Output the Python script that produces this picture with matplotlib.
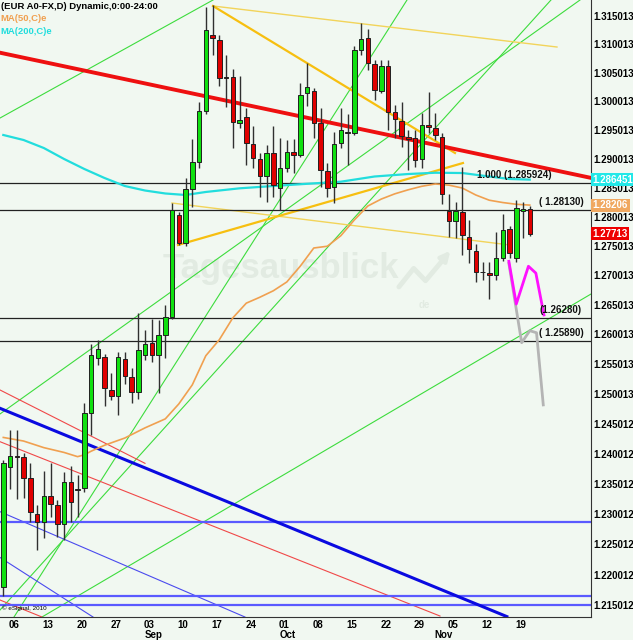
import numpy as np
import pandas as pd
import matplotlib
matplotlib.use("Agg")
import matplotlib.pyplot as plt
from matplotlib.ticker import FixedLocator, NullLocator

plt.rcParams['font.family'] = ['Liberation Sans', 'DejaVu Sans']

# -----------------------------
# Daily candles EUR/USD
# -----------------------------
opens = [1.21797, 1.23779, 1.23959, 1.23947, 1.23597, 1.22996, 1.22869, 1.23294, 1.23144, 1.22832,
         1.23531, 1.23419, 1.23431, 1.24681, 1.25600, 1.25612, 1.25061, 1.24960, 1.25583, 1.25274,
         1.25032, 1.25651, 1.25849, 1.25651, 1.25989, 1.26299, 1.28036, 1.27560, 1.28479, 1.28956,
         1.29833, 1.31158, 1.31082, 1.30429, 1.30424, 1.29633, 1.29727, 1.29262, 1.29003, 1.28714,
         1.29111, 1.28496, 1.28842, 1.29128, 1.29071, 1.30145, 1.30185, 1.29622, 1.28800, 1.28513,
         1.29274, 1.29470, 1.29458, 1.30909, 1.31117, 1.30651, 1.30190, 1.30622, 1.29822, 1.29663,
         1.29389, 1.29361, 1.28996, 1.29591, 1.29545, 1.29376, 1.28110, 1.27936, 1.28093, 1.27663,
         1.27427, 1.27064, 1.27047, 1.27008, 1.27294, 1.27787, 1.27302, 1.28110, 1.28134]
highs = [1.23891, 1.24399, 1.24389, 1.24009, 1.23847, 1.23144, 1.23708, 1.23837, 1.23227, 1.23697,
         1.23796, 1.23653, 1.24839, 1.25834, 1.25900, 1.25668, 1.25342, 1.25707, 1.25707, 1.25426,
         1.26357, 1.26073, 1.26255, 1.26243, 1.26498, 1.28248, 1.28093, 1.28668, 1.29343, 1.29997,
         1.31663, 1.31693, 1.31158, 1.30810, 1.30564, 1.30447, 1.29882, 1.29574, 1.29100, 1.29244,
         1.29574, 1.29361, 1.29331, 1.29343, 1.30319, 1.30681, 1.30232, 1.29882, 1.28928, 1.29475,
         1.29893, 1.29777, 1.30967, 1.31383, 1.31279, 1.30727, 1.30727, 1.30727, 1.29940, 1.29997,
         1.29505, 1.29505, 1.29805, 1.30167, 1.29794, 1.29453, 1.28399, 1.28265, 1.28864, 1.27950,
         1.27538, 1.27231, 1.27231, 1.27744, 1.28053, 1.27847, 1.28294, 1.28260, 1.28191]
lows = [1.21649, 1.23418, 1.23244, 1.23261, 1.22869, 1.22402, 1.22596, 1.22952, 1.22622, 1.22567,
        1.22869, 1.22942, 1.23360, 1.24308, 1.25480, 1.24792, 1.24894, 1.24642, 1.25162, 1.24848,
        1.24906, 1.25566, 1.25538, 1.25006, 1.25595, 1.26255, 1.27521, 1.27504, 1.28165, 1.28842,
        1.29777, 1.30810, 1.30273, 1.29912, 1.29187, 1.29535, 1.28898, 1.28842, 1.28351, 1.28265,
        1.28351, 1.28122, 1.28783, 1.28755, 1.29038, 1.29923, 1.29361, 1.28524, 1.28341, 1.28248,
        1.29187, 1.28898, 1.29419, 1.30810, 1.30552, 1.30028, 1.30145, 1.29505, 1.29361, 1.29215,
        1.28812, 1.28869, 1.28842, 1.29448, 1.29331, 1.28231, 1.27663, 1.27636, 1.27350, 1.27209,
        1.26894, 1.26923, 1.26600, 1.26923, 1.27248, 1.27299, 1.27236, 1.27641, 1.27670]
closes = [1.23837, 1.23959, 1.23951, 1.23603, 1.23025, 1.22869, 1.23294, 1.23161, 1.22842, 1.23521,
          1.23199, 1.23399, 1.24671, 1.25651, 1.25750, 1.25099, 1.24960, 1.25612, 1.25296, 1.25032,
          1.25735, 1.25837, 1.25651, 1.25989, 1.26299, 1.28122, 1.27560, 1.28479, 1.28951, 1.29833,
          1.31262, 1.31117, 1.30407, 1.30419, 1.29640, 1.29680, 1.29284, 1.29014, 1.28709, 1.29100,
          1.28553, 1.28842, 1.29128, 1.29071, 1.30115, 1.30260, 1.29633, 1.28812, 1.28496, 1.29262,
          1.29505, 1.29446, 1.30909, 1.31101, 1.30668, 1.30202, 1.30622, 1.29822, 1.29692, 1.29401,
          1.29343, 1.28985, 1.29591, 1.29562, 1.29419, 1.28399, 1.27936, 1.28105, 1.27693, 1.27453,
          1.27064, 1.27055, 1.27008, 1.27294, 1.27770, 1.27380, 1.28157, 1.28134, 1.27713]

dates = pd.bdate_range("2012-08-03", periods=len(opens))

# moving averages (sampled along the curves)
ma50_idx = [0, 3, 6, 9, 11, 12, 13, 15, 18, 21, 24, 26, 28, 30, 32, 34, 36, 38, 40, 42, 44, 46, 48,
            50, 52, 54, 56, 58, 60, 62, 64, 66, 68, 70, 72, 74, 76, 78]
ma50_val = [1.2427, 1.2421, 1.2410, 1.2402, 1.2395, 1.2398, 1.2404, 1.2414, 1.2426, 1.2443, 1.2458,
            1.2483, 1.2515, 1.2564, 1.2591, 1.2628, 1.2653, 1.2663, 1.2674, 1.2689, 1.2716, 1.2747,
            1.2750, 1.2768, 1.2795, 1.2819, 1.2831, 1.2840, 1.2847, 1.2853, 1.2857, 1.2855, 1.2850,
            1.2838, 1.2829, 1.2825, 1.2822, 1.28206]
ma200_idx = [0, 3, 6, 9, 12, 15, 18, 21, 24, 27, 30, 35, 40, 45, 50, 55, 60, 64, 68, 72, 75, 78]
ma200_val = [1.29418, 1.29331, 1.29192, 1.29002, 1.28829, 1.28673, 1.28535, 1.28457, 1.28406,
             1.28380, 1.28432, 1.28495, 1.28535, 1.28573, 1.28609, 1.28699, 1.28742, 1.28764,
             1.28759, 1.28699, 1.28656, 1.286451]

# horizontal levels
levels = [1.285924, 1.28130, 1.26280, 1.25890]
level_text = ["1.000 (1.285924)", "( 1.28130)", "(1.26280)", "( 1.25890)"]
level_text_x = [70.2, 79.4, 79.4, 79.4]
blue_levels = [1.22872, 1.21661, 1.21511]

# trend lines: ((index, price), (index, price))
red_main = ((-0.49, 1.30855), (87.07, 1.28675))
red_thin = [((-0.49, 1.25064), (20.99, 1.23839)),
            ((-0.49, 1.24199), (64.7, 1.21327)),
            ((-0.49, 1.21588), (5.73, 1.21311))]
blue_main = ((-0.49, 1.24757), (74.6, 1.21318))
blue_thin = [((-0.49, 1.23038), (35.8, 1.21311)),
             ((-0.49, 1.22284), (13.29, 1.21311))]
gold_lines = [((31.07, 1.31678), (66.92, 1.29106)),
              ((25.88, 1.27521), (68.1, 1.28932))]
pale_lines = [((31.07, 1.31678), (82.03, 1.30955)),
              ((24.99, 1.28242), (75.07, 1.27521))]
green_lines = [((-0.49, 1.29713), (31.07, 1.31784)),
               ((1.585, 1.21311), (59.81, 1.31784)),
               ((5.73, 1.21311), (87.07, 1.26685)),
               ((-0.49, 1.24662), (85.44, 1.31784)),
               ((-0.49, 1.21425), (81.14, 1.31784))]

# projections
magenta_i = [74.9, 76.0, 77.8, 78.9, 80.1]
magenta_p = [1.27242, 1.26515, 1.27158, 1.27041, 1.26330]
grey_i = [74.9, 76.8, 78.0, 79.0, 80.0]
grey_p = [1.27207, 1.25860, 1.26063, 1.26028, 1.24814]

ytick_vals = [1.315013, 1.310013, 1.305013, 1.300013, 1.295013, 1.290013, 1.285013, 1.280013,
              1.275013, 1.270013, 1.265013, 1.260013, 1.255013, 1.250013, 1.245012, 1.240012,
              1.235012, 1.230012, 1.225012, 1.220012, 1.215012]

bg = "#f1f8f1"
wm = "#e2ebe2"
fig = plt.figure(figsize=(6.33, 6.4), dpi=100, facecolor=bg)
ax = fig.add_axes([0, 23 / 640, 591 / 633, 617 / 640], facecolor=bg)
ax.set_yscale("log")

idx = np.arange(len(opens))
o = np.array(opens); h = np.array(highs); l = np.array(lows); c = np.array(closes)

# -----------------------------
# Watermark
# -----------------------------
ax.text(0.475, 0.565, "Tagesausblick", transform=ax.transAxes, fontsize=25,
        fontweight="bold", color=wm, ha="center", va="center", zorder=0)
ax.plot([0.675, 0.70, 0.72, 0.755], [0.535, 0.565, 0.545, 0.585], transform=ax.transAxes,
        color=wm, lw=3.5, solid_capstyle="round", zorder=0)
ax.annotate("", xy=(0.765, 0.597), xytext=(0.745, 0.574), xycoords=ax.transAxes,
            arrowprops=dict(arrowstyle="-|>", color=wm, lw=3, mutation_scale=14), zorder=0)
ax.text(0.718, 0.505, "de", transform=ax.transAxes, fontsize=7, fontweight="bold",
        color=wm, ha="center", va="center", zorder=0)

# -----------------------------
# Lines behind candles
# -----------------------------
for (a, b) in green_lines:
    ax.plot([a[0], b[0]], [a[1], b[1]], color="#3ddc3d", lw=0.8, zorder=1)
for (a, b) in pale_lines:
    ax.plot([a[0], b[0]], [a[1], b[1]], color="#f2d45a", lw=1.0, zorder=1)
for (a, b) in gold_lines:
    ax.plot([a[0], b[0]], [a[1], b[1]], color="#f7bf10", lw=1.6, zorder=1)
for (a, b) in red_thin:
    ax.plot([a[0], b[0]], [a[1], b[1]], color="#f04848", lw=0.8, zorder=1)
for (a, b) in blue_thin:
    ax.plot([a[0], b[0]], [a[1], b[1]], color="#4a4aee", lw=0.8, zorder=1)
ax.plot([blue_main[0][0], blue_main[1][0]], [blue_main[0][1], blue_main[1][1]],
        color="#0a0ae0", lw=2.2, zorder=2)
ax.plot([red_main[0][0], red_main[1][0]], [red_main[0][1], red_main[1][1]],
        color="#ee1010", lw=2.8, zorder=2)
for lv in blue_levels:
    ax.axhline(lv, color="#5a5aff", lw=1.6, zorder=1)
for lv in levels:
    ax.axhline(lv, color="#222222", lw=0.9, zorder=2)

ax.plot(ma200_idx, ma200_val, color="#22dddd", lw=1.6, zorder=2)
ax.plot(ma50_idx, ma50_val, color="#f0a050", lw=1.2, zorder=2)

# -----------------------------
# Candles
# -----------------------------
ax.vlines(idx, l, h, color="#303030", lw=1.0, zorder=3)
up = c >= o
body_lo = np.minimum(o, c)
body_hi = np.maximum(o, c)
ax.bar(idx[up], body_hi[up] - body_lo[up], bottom=body_lo[up], width=0.66,
       color="#10e010", edgecolor="#202020", lw=0.7, zorder=4)
ax.bar(idx[~up], body_hi[~up] - body_lo[~up], bottom=body_lo[~up], width=0.66,
       color="#e00000", edgecolor="#202020", lw=0.7, zorder=4)

# projections
ax.plot(grey_i, grey_p, color="#b4b4b4", lw=2.0, zorder=5)
ax.plot(magenta_i, magenta_p, color="#ff10ff", lw=2.0, zorder=5)

# level labels
for lv, txt, xi in zip(levels, level_text, level_text_x):
    ax.text(xi, lv * 1.0004, txt, fontsize=7, fontweight="bold", color="#111111",
            ha="left", va="bottom", zorder=6)

# -----------------------------
# Axes
# -----------------------------
ax.set_xlim(-0.49, 87.07)
ax.set_ylim(1.21311, 1.31784)
for s in ["left", "top"]:
    ax.spines[s].set_visible(False)
ax.spines["right"].set_color("#333333")
ax.spines["bottom"].set_color("#333333")

ax.yaxis.tick_right()
ax.yaxis.set_major_locator(FixedLocator(ytick_vals))
ax.yaxis.set_minor_locator(NullLocator())
ax.set_yticklabels(["%.6f" % v for v in ytick_vals])
ax.tick_params(axis="y", length=0, pad=2, labelsize=7)
for t in ax.get_yticklabels():
    t.set_fontweight("bold")

mondays = [i for i, d in enumerate(dates) if d.weekday() == 0]
ax.set_xticks([i + 0.65 for i in mondays])
ax.set_xticklabels([dates[i].strftime("%d") for i in mondays])
ax.xaxis.set_minor_locator(NullLocator())
ax.tick_params(axis="x", length=0, pad=2, labelsize=7)
for t in ax.get_xticklabels():
    t.set_fontweight("bold")

firsts = [i for i in range(1, len(dates)) if dates[i].month != dates[i - 1].month]
for i in firsts:
    ax.text(i + 1.2, -0.029, dates[i].strftime("%b"), transform=ax.get_xaxis_transform(),
            fontsize=7, fontweight="bold", ha="center", va="center")

# value boxes on the right
boxes = [(ma200_val[-1], "1.286451", "#22e8e8"),
         (ma50_val[-1], "1.28206", "#f0a860"),
         (closes[-1], "1.27713", "#ee0000")]
for v, txt, col in boxes:
    ax.text(1.003, v, txt, transform=ax.get_yaxis_transform(), fontsize=7, fontweight="bold",
            color="white", ha="left", va="center", zorder=7,
            bbox=dict(boxstyle="square,pad=0.15", fc=col, ec="none"))

# header
fig.text(0.002, 0.99, "(EUR A0-FX,D) Dynamic,0:00-24:00", fontsize=6.8, fontweight="bold",
         ha="left", va="center")
fig.text(0.0, 0.971, "MA(50,C)e", fontsize=6.8, fontweight="bold", color="#f0a050",
         ha="left", va="center")
fig.text(0.0, 0.951, "MA(200,C)e", fontsize=6.8, fontweight="bold", color="#22dddd",
         ha="left", va="center")
fig.text(0.003, 0.05, "\u00a9 eSignal, 2010", fontsize=4.5, ha="left", va="center")

fig.savefig("out.png", dpi=100, facecolor=bg)
